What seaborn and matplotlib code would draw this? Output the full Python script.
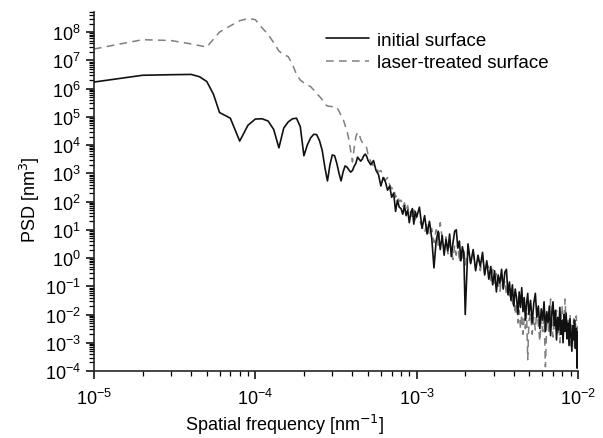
import numpy as np
import pandas as pd
import matplotlib
matplotlib.use("Agg")
import matplotlib.pyplot as plt
import seaborn as sns

# spatial frequency, in units of 1e-5 nm^-1
freq_k = [
    1, 2, 3, 4, 4.5, 5, 5.5, 6, 7, 8, 9, 10, 11, 12, 13, 14, 15, 16, 17, 18, 19, 20,
    21, 22, 23, 24, 25, 26, 27, 28, 29, 30, 31, 32, 33, 34, 35, 36, 37, 38, 39, 40,
    41, 42, 43, 44, 45, 46, 47, 48, 49, 50,
    52, 54, 56, 58, 60, 62, 64, 66, 68, 70, 72, 74, 76, 78, 80, 82, 84, 86, 88, 90,
    92, 94, 96, 98, 100,
    104, 108, 112, 116, 120, 124, 128, 132, 136, 140, 144, 148, 152, 156, 160, 164,
    168, 172, 176, 180, 184, 188, 192, 196, 200,
    208, 216, 224, 232, 240, 248, 256, 264, 272, 280, 288, 296, 304, 312, 320, 328,
    336, 344, 352, 360, 368, 376, 384, 392, 400, 408, 416, 424, 432, 440, 448, 456,
    464, 472, 480, 488, 496,
    508, 520, 532, 544, 556, 568, 580, 592, 604, 616, 628, 640, 652, 664, 676, 688,
    700, 712, 724, 736, 748, 760, 772, 784, 796, 808, 820, 832, 844, 856, 868, 880,
    892, 904, 916, 928, 940, 952, 964, 976, 988, 1000,
]

# log10 of PSD [nm^3]
initial_log = [
    6.23, 6.47, 6.49, 6.50, 6.42, 6.25, 5.80, 5.15, 4.95, 4.14, 4.70, 4.92,
    4.93, 4.85, 4.55, 3.90, 4.60, 4.82, 4.93, 4.95, 4.65, 3.62,
    4.00, 4.25, 4.38, 4.37, 4.15, 3.80, 3.20, 2.73, 3.30, 3.65,
    3.62, 3.35, 3.00, 2.73, 3.05, 3.26, 3.22, 3.12, 3.04, 3.10,
    3.25, 3.35, 3.57, 3.50, 3.43, 3.50, 3.62, 3.68, 3.60, 3.45,
    3.30, 3.45, 3.10, 2.95, 2.55, 2.85, 2.70, 2.40, 2.55, 2.15,
    2.30, 1.65, 2.05, 1.80, 1.75, 1.55, 1.85, 1.50, 1.70, 1.25,
    1.60, 1.75, 1.20, 1.65, 1.45,
    1.80, 1.05, 1.50, 0.85, 1.30, 0.70, -0.35, 0.60, 0.95, 0.30,
    0.80, 0.10, 0.65, 0.25, 0.85, 0.05, 0.55, 0.95, 1.00, 0.35,
    0.60, -0.10, 0.40, 0.15, -2.00,
    0.50, -0.20, 0.30, -0.45, 0.10, -0.30, 0.20, -0.60, -0.10, -0.75,
    -0.30, -0.95, -0.45, -1.20, -0.60, -0.90, -0.40, -1.10, -0.50, -0.40,
    -1.30, -0.85, -1.50, -0.95, -1.70, -1.10, -1.40, -2.00, -1.20, -1.75,
    -1.05, -1.90, -1.40, -2.20, -1.60, -1.25, -2.00,
    -1.50, -2.30, -1.60, -1.25, -2.10, -1.70, -2.50, -1.80, -2.20, -1.55,
    -2.60, -1.90, -2.30, -1.70, -2.75, -2.00, -1.55, -2.40, -1.85, -2.90,
    -2.10, -2.55, -1.75, -2.70, -2.20, -3.00, -2.00, -2.60, -1.95, -2.85,
    -2.30, -3.10, -2.15, -2.70, -3.30, -2.40, -2.90, -2.20, -3.20, -2.50,
    -3.90, -2.60,
]

laser_log = [
    7.40, 7.73, 7.70, 7.58, 7.52, 7.47, 7.75, 8.00, 8.22, 8.40, 8.48, 8.44,
    8.15, 7.92, 7.62, 7.33, 7.20, 7.13, 6.85, 6.50, 6.30, 6.20,
    6.12, 6.07, 5.95, 5.82, 5.72, 5.60, 5.45, 5.38, 5.37, 5.36,
    5.36, 5.34, 5.20, 5.05, 4.92, 4.70, 4.50, 4.20, 3.80, 3.40,
    3.90, 4.30, 4.45, 4.40, 4.20, 4.10, 4.00, 3.97, 3.90, 3.65,
    3.40, 3.25, 3.20, 3.05, 3.10, 2.90, 2.75, 2.85, 2.60, 2.45,
    2.50, 2.15, 2.25, 2.00, 2.05, 1.80, 1.95, 1.70, 1.85, 1.55,
    1.65, 1.40, 1.70, 1.35, 1.50,
    1.35, 1.10, 0.90, 1.25, 0.80, 1.05, 0.55, 1.00, 0.45, 1.25,
    0.70, 0.35, 0.75, 0.15, 0.50, 0.30, -0.05, 0.45, 0.10, 0.55,
    -0.15, 0.30, -0.10, 0.35, -0.25,
    0.30, -0.15, 0.20, -0.35, 0.05, -0.45, 0.00, -0.55, -0.20, -0.35,
    -0.80, -0.40, -0.95, -0.55, -0.85, -1.20, -0.65, -1.05, -0.80, -1.30,
    -0.90, -1.45, -1.10, -1.70, -1.40, -2.00, -1.60, -2.30, -1.85, -2.50,
    -2.00, -2.70, -2.15, -2.50, -1.95, -3.60, -2.25,
    -1.95, -2.70, -2.10, -2.55, -1.80, -2.40, -2.95, -2.15, -2.60, -1.90,
    -3.85, -2.35, -2.00, -2.70, -1.45, -2.25, -2.80, -2.05, -2.50, -1.85,
    -2.65, -2.15, -3.00, -2.30, -1.70, -2.60, -2.10, -1.45, -2.45, -2.95,
    -2.20, -2.70, -2.00, -3.10, -2.35, -2.80, -2.15, -3.20, -2.45, -2.05,
    -3.40, -2.40,
]

freq = np.array(freq_k) * 1e-5
df = pd.DataFrame({
    "freq": freq,
    "initial": 10 ** np.array(initial_log),
    "laser": 10 ** np.array(laser_log),
})

sns.set_style("ticks")
plt.rcParams['font.family'] = ['Liberation Sans', 'DejaVu Sans']
plt.rcParams['axes.linewidth'] = 1.2
plt.rcParams['axes.unicode_minus'] = False
plt.rcParams['text.color'] = 'black'
plt.rcParams['axes.labelcolor'] = 'black'

fig = plt.figure(figsize=(6.03, 4.39), dpi=100)
ax = fig.add_axes([94 / 603, 1 - 372 / 439, 484 / 603, 359 / 439])

sns.lineplot(data=df, x="freq", y="initial", ax=ax, color="#111111",
             linewidth=1.2, label="initial surface", sort=False, zorder=3)
sns.lineplot(data=df, x="freq", y="laser", ax=ax, color="#7f7f7f",
             linewidth=1.1, linestyle=(0, (5, 3.5)), label="laser-treated surface",
             sort=False, zorder=2)

ax.set_xscale("log")
ax.set_yscale("log")
ax.set_xlim(1e-5, 1e-2)
ax.set_ylim(1e-4, 10 ** 8.71)
ax.set_yticks([10.0 ** e for e in range(-4, 9)])
ax.yaxis.set_minor_locator(matplotlib.ticker.LogLocator(base=10, subs=np.arange(2, 10), numticks=30))
ax.xaxis.set_minor_locator(matplotlib.ticker.LogLocator(base=10, subs=np.arange(2, 10), numticks=30))
ax.yaxis.set_minor_formatter(matplotlib.ticker.NullFormatter())
ax.xaxis.set_minor_formatter(matplotlib.ticker.NullFormatter())

ax.tick_params(which="major", direction="out", length=6, width=1.1, labelsize=13, colors="black")
ax.tick_params(which="minor", direction="out", length=3.5, width=0.9, colors="black")
ax.tick_params(axis="x", which="major", pad=6)

sns.despine(ax=ax)

ax.set_xlabel("Spatial frequency [nm$^{-1}$]", fontsize=13)
ax.set_ylabel("PSD [nm$^{3}$]", fontsize=13)
ax.xaxis.set_label_coords(0.393, -0.115)
ax.yaxis.set_label_coords(-0.108, 0.48)

ax.legend(loc="upper left", bbox_to_anchor=(0.48, 0.946), frameon=False,
          fontsize=13.5, handlelength=2.3, handletextpad=0.4,
          borderpad=0, borderaxespad=0, labelspacing=0.3)

fig.savefig("out.png", dpi=100)
